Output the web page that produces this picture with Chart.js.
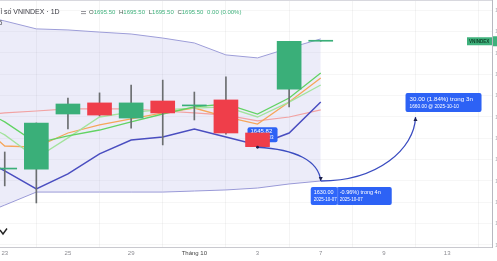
<!DOCTYPE html>
<html>
<head>
<meta charset="utf-8">
<script src="https://cdn.jsdelivr.net/npm/chart.js@4.4.1/dist/chart.umd.min.js"></script>
<style>
    html, body { margin: 0; padding: 0; background: #fff; }
    #wrap { position: relative; width: 497px; height: 261px; }
</style>
</head>
<body>
<div id="wrap"><canvas id="chart"></canvas></div>
<script>
// trading days counted from Sep 23 (day 0); day -1 is Sep 22, off the left edge
const candleDays = [0, 1, 2, 3, 4, 5, 6, 7, 8, 9, 10];
const openV  = [1635.6, 1635.6, 1661.4, 1666.6, 1659.5, 1667.5, 1665.2, 1668.0, 1652.5, 1673.1, 1695.5];
const highV  = [1643.6, 1657.2, 1668.9, 1671.3, 1675.0, 1677.3, 1671.7, 1678.8, 1652.5, 1695.5, 1695.5];
const lowV   = [1627.7, 1619.7, 1654.4, 1660.5, 1654.8, 1646.9, 1658.6, 1652.0, 1645.82, 1664.7, 1695.5];
const closeV = [1635.9, 1657.2, 1666.1, 1660.9, 1666.6, 1661.9, 1665.4, 1652.5, 1646.1, 1695.5, 1695.5];

const lineDays  = [-1, 0, 1, 2, 3, 4, 5, 6, 7, 8, 9, 10];
const upperBand = [1708.3, 1705.0, 1701.3, 1700.8, 1699.8, 1698.9, 1697.0, 1694.7, 1689.1, 1687.7, 1692.3, 1696.6];
const lowerBand = [1612.7, 1618.7, 1624.8, 1624.8, 1624.8, 1624.8, 1624.8, 1625.3, 1625.8, 1626.7, 1628.6, 1630.0];
const basisLine = [1660.5, 1661.9, 1662.8, 1663.8, 1663.8, 1663.8, 1662.8, 1661.9, 1660.9, 1658.2, 1660.0, 1663.3];
const orangeMA  = [1659.5, 1646.4, 1645.9, 1652.5, 1656.3, 1659.1, 1661.9, 1664.2, 1660.0, 1656.7, 1667.0, 1678.3];
const greenMA   = [1665.6, 1657.7, 1647.8, 1651.1, 1653.9, 1657.7, 1661.4, 1664.7, 1666.1, 1661.4, 1668.9, 1680.6];
const lightMA   = [1659.5, 1651.6, 1640.8, 1650.2, 1660.0, 1662.3, 1663.3, 1664.2, 1664.7, 1660.0, 1667.0, 1675.0];
const blueLine  = [1643.1, 1634.7, 1626.3, 1633.3, 1642.7, 1649.2, 1650.6, 1654.4, 1650.6, 1646.9, 1652.5, 1667.0];

const tickDays   = [0, 2, 4, 6, 8, 10, 12, 14];
const tickLabels = ['23', '25', '29', 'Tháng 10', '3', '7', '9', '13'];
const priceTicks = [1600, 1610, 1620, 1630, 1640, 1650, 1660, 1670, 1680, 1690, 1700, 1710];

// measuring drawing: low of Oct 3 -> Oct 7 -> target Oct 10
const measureDays   = [8, 10, 13];
const measureValues = [1645.82, 1630.00, 1660.00];

const GREEN = '#3aaf79';
const RED = '#ef3e4a';
const BLUE_BOX = '#2d62f5';
const FONT = "'Liberation Sans', Arial, sans-serif";

const candleColors = candleDays.map((d, i) => closeV[i] >= openV[i] ? GREEN : RED);

function xy(days, values) {
    return days.map((d, i) => ({ x: d, y: values[i] }));
}

function lineSet(label, values, color, width, order, extra = {}) {
    return Object.assign({
        type: 'line', label, data: xy(lineDays, values),
        borderColor: color, borderWidth: width, pointRadius: 0,
        tension: 0, fill: false, order,
    }, extra);
}

function box(ctx, x, y, w, h, color) {
    ctx.fillStyle = color;
    ctx.beginPath();
    ctx.roundRect(x, y, w, h, 2);
    ctx.fill();
}

function arrowHead(ctx, x, y, angle) {
    ctx.save();
    ctx.translate(x, y);
    ctx.rotate(angle);
    ctx.fillStyle = '#1b1f4a';
    ctx.beginPath();
    ctx.moveTo(0, 0);
    ctx.lineTo(-4, -2);
    ctx.lineTo(-4, 2);
    ctx.closePath();
    ctx.fill();
    ctx.restore();
}

const drawings = {
    id: 'drawings',
    beforeDatasetDraw(chart, args) {
        // low price tag sits behind the candles
        if (args.meta.label !== 'wick') return;
        const { ctx, scales: { x, y } } = chart;
        const px = x.getPixelForValue(measureDays[0]);
        const py = y.getPixelForValue(measureValues[0]);
        ctx.save();
        box(ctx, px - 10, py - 20, 30, 15, BLUE_BOX);
        ctx.fillStyle = '#fff';
        ctx.textBaseline = 'middle';
        ctx.font = `6px ${FONT}`;
        ctx.fillText(measureValues[0].toFixed(2), px - 7, py - 16);
        ctx.font = `4.5px ${FONT}`;
        ctx.fillText('2025-10-03', px - 7, py - 9);
        ctx.restore();
    },
    afterDatasetsDraw(chart) {
        const { ctx, scales: { x, y } } = chart;
        const p = measureDays.map((d, i) => ({ x: x.getPixelForValue(d), y: y.getPixelForValue(measureValues[i]) }));
        ctx.save();
        ctx.strokeStyle = '#3a4cc0';
        ctx.lineWidth = 1.3;

        // leg 1: Oct 3 low down to Oct 7
        ctx.beginPath();
        ctx.moveTo(p[0].x, p[0].y);
        ctx.bezierCurveTo(p[0].x + (p[1].x - p[0].x) * 0.6, p[0].y + 2,
                          p[1].x - 2, p[0].y + (p[1].y - p[0].y) * 0.4, p[1].x, p[1].y);
        ctx.stroke();
        ctx.fillStyle = '#1b1f4a';
        ctx.beginPath();
        ctx.arc(p[0].x, p[0].y, 1.4, 0, Math.PI * 2);
        ctx.fill();
        arrowHead(ctx, p[1].x, p[1].y, Math.PI / 2);

        // leg 2: Oct 7 up to Oct 10
        ctx.beginPath();
        ctx.moveTo(p[1].x, p[1].y);
        ctx.bezierCurveTo(p[1].x + (p[2].x - p[1].x) * 0.6, p[1].y,
                          p[2].x - 1, p[1].y - (p[1].y - p[2].y) * 0.5, p[2].x, p[2].y);
        ctx.stroke();
        arrowHead(ctx, p[2].x, p[2].y, -Math.PI / 2);

        // labels of the measure
        ctx.textBaseline = 'middle';
        box(ctx, p[1].x + 16, p[1].y + 6, 55, 18, BLUE_BOX);
        box(ctx, p[1].x - 10, p[1].y + 6, 27, 18, '#2f66fa');
        ctx.strokeStyle = 'rgba(255,255,255,0.35)';
        ctx.lineWidth = 0.6;
        ctx.beginPath();
        ctx.moveTo(p[1].x + 17, p[1].y + 7);
        ctx.lineTo(p[1].x + 17, p[1].y + 23);
        ctx.stroke();
        ctx.fillStyle = '#fff';
        ctx.font = `5.5px ${FONT}`;
        ctx.fillText(measureValues[1].toFixed(2), p[1].x - 7, p[1].y + 11);
        ctx.fillText('-0.96%) trong 4n', p[1].x + 19, p[1].y + 11);
        ctx.font = `4.5px ${FONT}`;
        ctx.fillText('2025-10-07', p[1].x - 7, p[1].y + 18.5);
        ctx.fillText('2025-10-07', p[1].x + 19, p[1].y + 18.5);

        box(ctx, p[2].x - 10, p[2].y - 24, 76, 19, BLUE_BOX);
        ctx.fillStyle = '#fff';
        ctx.font = `6.2px ${FONT}`;
        ctx.fillText('30.00 (1.84%) trong 3n', p[2].x - 6, p[2].y - 18);
        ctx.font = `4.8px ${FONT}`;
        ctx.fillText(measureValues[2].toFixed(2) + ' @ 2025-10-10', p[2].x - 6, p[2].y - 10);

        // symbol tag at last close
        const lastY = y.getPixelForValue(closeV[closeV.length - 1]);
        const right = chart.chartArea.right;
        ctx.fillStyle = '#3fb17c';
        ctx.fillRect(right - 25, lastY - 4, 25, 8);
        ctx.fillRect(right + 1, lastY - 5, 6, 10);
        ctx.fillStyle = '#10452b';
        ctx.font = `bold 4.6px ${FONT}`;
        ctx.fillText('VNINDEX', right - 23, lastY + 0.3);
        ctx.restore();
    },
    afterDraw(chart) {
        const { ctx } = chart;
        ctx.save();
        ctx.strokeStyle = '#d8d8de';
        ctx.lineWidth = 1;
        ctx.beginPath();
        ctx.moveTo(0, 0.5);
        ctx.lineTo(chart.chartArea.right, 0.5);
        ctx.stroke();

        ctx.textBaseline = 'middle';
        ctx.font = `7px ${FONT}`;
        ctx.fillStyle = '#3c3c44';
        const title = 'Chỉ số VNINDEX · 1D';
        ctx.fillText(title, -ctx.measureText('Ch').width + 0.5, 12.5);
        ctx.fillStyle = '#8a8a90';
        ctx.fillRect(81, 11, 5, 0.9);
        ctx.fillRect(81, 13.2, 5, 0.9);

        let cx = 89;
        ctx.font = `6px ${FONT}`;
        const parts = [['O', '1695.50'], ['H', '1695.50'], ['L', '1695.50'], ['C', '1695.50'], ['', '0.00 (0.00%)']];
        for (const [k, v] of parts) {
            ctx.fillStyle = '#4a5a50';
            ctx.fillText(k, cx, 12.5);
            cx += ctx.measureText(k).width;
            ctx.fillStyle = '#3fb17c';
            ctx.fillText(v, cx, 12.5);
            cx += ctx.measureText(v + ' ').width + 2;
        }
        ctx.fillStyle = '#55555c';
        ctx.font = `7px ${FONT}`;
        ctx.fillText('5', -1.5, 23);

        ctx.strokeStyle = '#222';
        ctx.lineWidth = 1.4;
        ctx.beginPath();
        ctx.moveTo(0, 230);
        ctx.lineTo(3, 234);
        ctx.lineTo(7, 228.5);
        ctx.stroke();
        ctx.restore();
    },
};

const ctx = document.getElementById('chart').getContext('2d');
new Chart(ctx, {
    type: 'bar',
    data: {
        datasets: [
            lineSet('upper', upperBand, '#9d9dd8', 1, 8, { fill: '+1', backgroundColor: 'rgba(112,112,205,0.13)' }),
            lineSet('lower', lowerBand, '#9d9dd8', 1, 8),
            lineSet('basis', basisLine, '#f2a2a2', 1.2, 7),
            lineSet('orange', orangeMA, '#f6a65a', 1.3, 6),
            lineSet('light', lightMA, '#a3e39d', 1.3, 5),
            lineSet('green', greenMA, '#62d363', 1.3, 4),
            lineSet('blue', blueLine, '#4a4ec0', 1.5, 3),
            {
                label: 'wick', order: 1, grouped: false,
                data: candleDays.map((d, i) => ({ x: d, y: [lowV[i], highV[i]] })),
                backgroundColor: '#6b6e70', barThickness: 1, borderWidth: 0,
            },
            {
                label: 'body', order: 0, grouped: false,
                data: candleDays.map((d, i) => ({ x: d, y: [openV[i], closeV[i]] })),
                backgroundColor: candleColors, barThickness: 24, borderWidth: 0, minBarLength: 1,
            },
        ],
    },
    options: {
        responsive: true,
        maintainAspectRatio: false,
        animation: false,
        layout: { padding: 0 },
        plugins: { legend: { display: false }, tooltip: { enabled: false } },
        scales: {
            x: {
                type: 'linear', min: -0.15, max: 15.42, offset: false,
                grid: { color: 'rgba(0,0,0,0.045)', drawTicks: false },
                border: { display: true, color: '#c9c9cf' },
                afterBuildTicks: (s) => { s.ticks = tickDays.map(v => ({ value: v })); },
                afterFit: (s) => { s.height = 14; s.paddingLeft = 0; s.paddingRight = 0; },
                ticks: {
                    autoSkip: false, maxRotation: 0, padding: 3,
                    font: { family: FONT, size: 6 },
                    color: (c) => c.tick && c.tick.value === 6 ? '#444' : '#8c8c92',
                    callback: (v) => tickLabels[tickDays.indexOf(v)] ?? '',
                },
            },
            y: {
                position: 'right', min: 1599.06, max: 1714.84,
                grid: { color: 'rgba(0,0,0,0.035)', drawTicks: false },
                border: { display: true, color: '#b8b8c0' },
                afterBuildTicks: (s) => { s.ticks = priceTicks.map(v => ({ value: v })); },
                afterFit: (s) => { s.width = 5; s.paddingTop = 0; s.paddingBottom = 0; },
                ticks: {
                    padding: 3, color: '#b4b4ba',
                    font: { family: FONT, size: 6 },
                },
            },
        },
    },
    plugins: [drawings],
});
</script>
</body>
</html>
